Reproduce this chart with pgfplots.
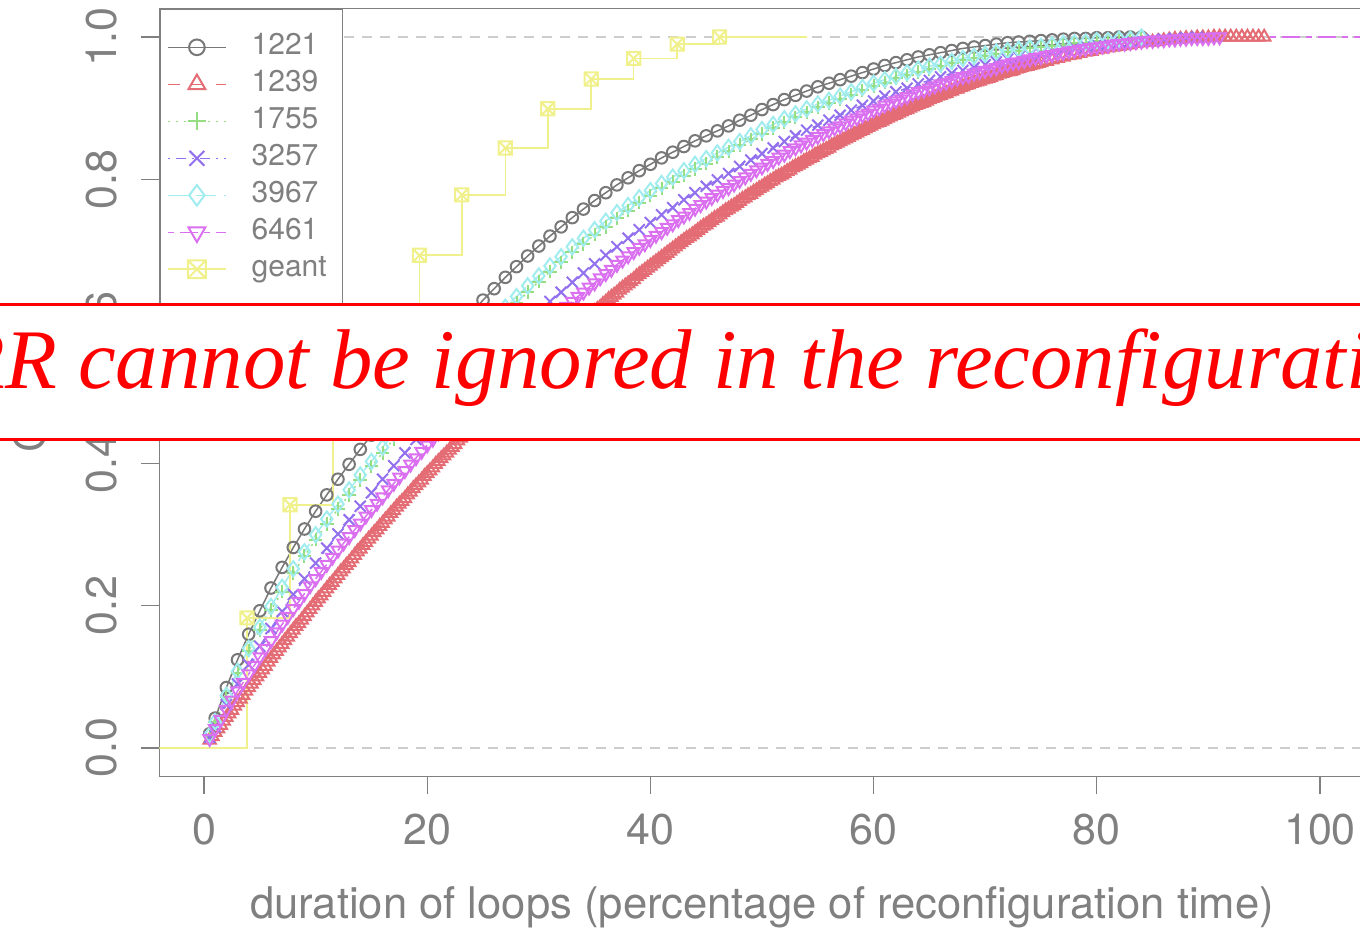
\documentclass[border=0pt]{standalone}
\usepackage{fontspec}
\setmainfont{TeX Gyre Heros}
\newfontfamily\bannerfont{Liberation Serif}
\usepackage{pgfplots}
\pgfplotsset{compat=1.18}

\definecolor{axgray}{RGB}{128,128,128}
\definecolor{refgray}{RGB}{205,205,205}
\definecolor{cA}{RGB}{120,120,120}
\definecolor{cB}{RGB}{228,108,116}
\definecolor{cC}{RGB}{150,222,130}
\definecolor{cD}{RGB}{146,112,238}
\definecolor{cE}{RGB}{160,236,238}
\definecolor{cF}{RGB}{218,112,240}
\definecolor{cG}{RGB}{240,240,140}

\pgfdeclareplotmark{boxx}{%
  \pgfpathrectangle{\pgfqpoint{-\pgfplotmarksize}{-\pgfplotmarksize}}{\pgfqpoint{2\pgfplotmarksize}{2\pgfplotmarksize}}%
  \pgfpathmoveto{\pgfqpoint{-\pgfplotmarksize}{-\pgfplotmarksize}}%
  \pgfpathlineto{\pgfqpoint{\pgfplotmarksize}{\pgfplotmarksize}}%
  \pgfpathmoveto{\pgfqpoint{-\pgfplotmarksize}{\pgfplotmarksize}}%
  \pgfpathlineto{\pgfqpoint{\pgfplotmarksize}{-\pgfplotmarksize}}%
  \pgfusepathqstroke}

\begin{document}
\begin{tikzpicture}
\useasboundingbox (0,0) rectangle (680pt,464pt);
\clip (0,0) rectangle (680pt,464pt);
\begin{axis}[
  at={(79.7pt,75.8pt)}, anchor=south west,
  scale only axis, width=602.6pt, height=383.9pt,
  xmin=-4, xmax=104, ymin=-0.04, ymax=1.04,
  axis line style={axgray, line width=0.7pt},
  xtick={0,20,40,60,80,100}, xticklabels={0,20,40,60,80,100},
  ytick={0,0.2,0.4,0.6,0.8,1}, yticklabels={0.0,0.2,0.4,0.6,0.8,1.0},
  tick pos=left, tick align=outside, major tick length=9pt,
  tick style={axgray, line width=0.7pt},
  /pgf/number format/assume math mode=true,
  tick label style={font=\fontsize{21.5pt}{24pt}\selectfont, text=axgray},
  xticklabel style={anchor=base, yshift=-25pt},
  yticklabel style={rotate=90, anchor=base, yshift=12.5pt},
  xlabel={duration of loops (percentage of reconfiguration time)},
  ylabel={CDF},
  every axis x label/.style={at={(axis description cs:0.5,0)}, anchor=base, yshift=-70.8pt, font=\fontsize{21.8pt}{24pt}\selectfont, text=axgray},
  every axis y label/.style={at={(axis description cs:0,0.48)}, rotate=90, anchor=base, yshift=57.2pt, font=\fontsize{21.8pt}{24pt}\selectfont, text=axgray},
  legend style={at={(axis description cs:0,1)}, anchor=north west, draw=axgray, line width=0.7pt, fill=white,
    inner xsep=3.5pt, inner ysep=11.5pt, row sep=3.5pt, font=\fontsize{15pt}{18pt}\selectfont, text=axgray,
    nodes={inner sep=0pt, text height=11pt, text depth=4pt},
    /tikz/every odd column/.append style={column sep=12.5pt}},
  legend cell align=left,
  legend image code/.code={\draw[mark repeat=2,mark phase=2,#1,every mark/.append style={scale=1.35}] plot coordinates {(0pt,0pt) (14.5pt,0pt) (29pt,0pt)};},
  clip=true,
]
\addplot[forget plot, refgray, line width=0.9pt, dash pattern=on 5pt off 4pt] coordinates {(-10,0) (110,0)};
\addplot[forget plot, refgray, line width=0.9pt, dash pattern=on 5pt off 4pt] coordinates {(-10,1) (110,1)};

% 1221
\addplot[cA, line width=0.75pt, mark=o, mark size=2.9pt, mark options={solid, line width=1pt}] coordinates {
(0.5,0.020)(1,0.042)(2,0.085)(3,0.124)(4,0.160)(5,0.193)(6,0.225)(7,0.254)(8,0.282)(9,0.308)(10,0.333)
(11,0.356)(12,0.378)(13,0.399)(14,0.420)(15,0.440)(16,0.460)(17,0.480)(18,0.500)(19,0.520)(20,0.539)
(21,0.558)(22,0.576)(23,0.594)(24,0.612)(25,0.630)(26,0.646)(27,0.662)(28,0.677)(29,0.692)(30,0.706)
(31,0.720)(32,0.733)(33,0.746)(34,0.758)(35,0.770)(36,0.781)(37,0.792)(38,0.802)(39,0.812)(40,0.821)
(41,0.830)(42,0.838)(43,0.846)(44,0.854)(45,0.861)(46,0.868)(47,0.875)(48,0.883)(49,0.890)(50,0.898)
(51,0.905)(52,0.912)(53,0.918)(54,0.924)(55,0.930)(56,0.935)(57,0.940)(58,0.945)(59,0.950)(60,0.955)
(61,0.960)(62,0.964)(63,0.968)(64,0.972)(65,0.975)(66,0.978)(67,0.981)(68,0.984)(69,0.986)(70,0.988)
(71,0.990)(72,0.992)(73,0.993)(74,0.994)(75,0.995)(76,0.996)(77,0.997)(78,0.998)(79,0.998)(80,0.999)
(81,0.999)(82,1)(83,1)(84,1)};
\addlegendentry{1221}

% 1239
\addplot[cB, line width=0.75pt, dash pattern=on 6pt off 6pt, mark=triangle, mark size=3.6pt, mark options={solid, line width=1pt}] coordinates {
(0.5,.011)(0.75,.016)(1,.022)(1.25,.027)(1.5,.032)(1.75,.038)(2,.043)(2.25,.048)(2.5,.053)(2.75,.059)
(3,.064)(3.25,.069)(3.5,.074)(3.75,.080)(4,.085)(4.25,.090)(4.5,.095)(4.75,.100)(5,.105)(5.25,.110)
(5.5,.115)(5.75,.121)(6,.126)(6.25,.131)(6.5,.136)(6.75,.141)(7,.146)(7.25,.151)(7.5,.156)(7.75,.161)
(8,.166)(8.25,.171)(8.5,.175)(8.75,.180)(9,.185)(9.25,.190)(9.5,.195)(9.75,.200)(10,.205)(10.25,.210)
(10.5,.214)(10.75,.219)(11,.224)(11.25,.229)(11.5,.233)(11.75,.238)(12,.243)(12.25,.248)(12.5,.252)(12.75,.257)
(13,.261)(13.25,.266)(13.5,.271)(13.75,.276)(14,.280)(14.25,.285)(14.5,.289)(14.75,.294)(15,.298)(15.25,.303)
(15.5,.307)(15.75,.312)(16,.316)(16.25,.321)(16.5,.325)(16.75,.330)(17,.334)(17.25,.339)(17.5,.343)(17.75,.347)
(18,.351)(18.25,.356)(18.5,.360)(18.75,.365)(19,.369)(19.25,.373)(19.5,.377)(19.75,.382)(20,.386)(20.25,.390)
(20.5,.394)(20.75,.399)(21,.403)(21.25,.407)(21.5,.411)(21.75,.415)(22,.419)(22.25,.423)(22.5,.427)(22.75,.432)
(23,.436)(23.25,.440)(23.5,.444)(23.75,.448)(24,.452)(24.25,.456)(24.5,.460)(24.75,.464)(25,.468)(25.25,.472)
(25.5,.475)(25.75,.479)(26,.483)(26.25,.487)(26.5,.491)(26.75,.495)(27,.499)(27.25,.503)(27.5,.506)(27.75,.510)
(28,.514)(28.25,.518)(28.5,.521)(28.75,.525)(29,.529)(29.25,.533)(29.5,.536)(29.75,.540)(30,.544)(30.25,.548)
(30.5,.551)(30.75,.555)(31,.558)(31.25,.562)(31.5,.565)(31.75,.569)(32,.572)(32.25,.576)(32.5,.579)(32.75,.583)
(33,.586)(33.25,.590)(33.5,.593)(33.75,.597)(34,.600)(34.25,.604)(34.5,.607)(34.75,.611)(35,.614)(35.25,.617)
(35.5,.620)(35.75,.624)(36,.627)(36.25,.631)(36.5,.634)(36.75,.637)(37,.640)(37.25,.644)(37.5,.647)(37.75,.650)
(38,.653)(38.25,.656)(38.5,.659)(38.75,.663)(39,.666)(39.25,.669)(39.5,.672)(39.75,.675)(40,.678)(40.25,.681)
(40.5,.684)(40.75,.687)(41,.690)(41.25,.693)(41.5,.696)(41.75,.699)(42,.702)(42.25,.705)(42.5,.708)(42.75,.711)
(43,.714)(43.25,.717)(43.5,.719)(43.75,.722)(44,.725)(44.25,.728)(44.5,.731)(44.75,.734)(45,.736)(45.25,.739)
(45.5,.742)(45.75,.745)(46,.747)(46.25,.750)(46.5,.753)(46.75,.756)(47,.758)(47.25,.761)(47.5,.763)(47.75,.766)
(48,.769)(48.25,.772)(48.5,.774)(48.75,.777)(49,.779)(49.25,.782)(49.5,.784)(49.75,.787)(50,.789)(50.25,.792)
(50.5,.794)(50.75,.797)(51,.799)(51.25,.802)(51.5,.804)(51.75,.806)(52,.808)(52.25,.811)(52.5,.813)(52.75,.816)
(53,.818)(53.25,.820)(53.5,.822)(53.75,.825)(54,.827)(54.25,.829)(54.5,.831)(54.75,.834)(55,.836)(55.25,.838)
(55.5,.840)(55.75,.842)(56,.844)(56.25,.847)(56.5,.849)(56.75,.851)(57,.853)(57.25,.855)(57.5,.857)(57.75,.859)
(58,.861)(58.25,.863)(58.5,.865)(58.75,.867)(59,.869)(59.25,.871)(59.5,.873)(59.75,.875)(60,.877)(60.25,.879)
(60.5,.880)(60.75,.882)(61,.884)(61.25,.886)(61.5,.888)(61.75,.890)(62,.891)(62.25,.893)(62.5,.895)(62.75,.897)
(63,.898)(63.25,.900)(63.5,.902)(63.75,.904)(64,.905)(64.25,.907)(64.5,.908)(64.75,.910)(65,.912)(65.25,.914)
(65.5,.915)(65.75,.917)(66,.918)(66.25,.920)(66.5,.921)(66.75,.923)(67,.924)(67.25,.926)(67.5,.927)(67.75,.929)
(68,.930)(68.25,.932)(68.5,.933)(68.75,.935)(69,.936)(69.25,.937)(69.5,.938)(69.75,.940)(70,.941)(70.25,.942)
(70.5,.943)(70.75,.945)(71,.946)(71.25,.948)(71.5,.949)(71.75,.950)(72,.951)(72.25,.952)(72.5,.953)(72.75,.955)
(73,.956)(73.25,.957)(73.5,.958)(73.75,.959)(74,.960)(74.25,.961)(74.5,.962)(74.75,.963)(75,.964)
(75.5,.966)(76,.968)(76.5,.970)(77,.972)(77.5,.974)(78,.975)(78.5,.977)(79,.979)(79.5,.980)(80,.982)
(80.5,.983)(81,.985)(81.5,.986)(82,.987)(82.5,.988)(83,.989)(83.5,.991)(84,.992)(84.5,.993)(85,.993)
(85.5,.994)(86,.995)(86.5,.996)(87,.997)(87.5,.997)(88,.998)(88.5,.998)(89,.999)(89.5,.999)(90,.999)
(90.5,1)(91,1)(91.5,1)(92,1)(92.5,1)(93,1)(93.5,1)(94,1)(94.5,1)(95,1)};
\addlegendentry{1239}

% 1755
\addplot[cC, line width=0.75pt, dash pattern=on 1pt off 3pt, mark=+, mark size=3.4pt, mark options={solid, line width=1pt}] coordinates {
(0.5,.017)(1,.036)(2,.072)(3,.105)(4,.137)(5,.166)(6,.194)(7,.220)(8,.246)(9,.270)(10,.293)
(11,.315)(12,.336)(13,.356)(14,.377)(15,.396)(16,.415)(17,.435)(18,.454)(19,.473)(20,.492)
(21,.510)(22,.527)(23,.545)(24,.562)(25,.580)(26,.596)(27,.611)(28,.626)(29,.641)(30,.656)
(31,.670)(32,.683)(33,.697)(34,.709)(35,.722)(36,.733)(37,.745)(38,.756)(39,.767)(40,.777)
(41,.787)(42,.796)(43,.805)(44,.814)(45,.822)(46,.831)(47,.839)(48,.848)(49,.856)(50,.864)
(51,.872)(52,.880)(53,.887)(54,.894)(55,.901)(56,.907)(57,.913)(58,.919)(59,.925)(60,.931)
(61,.936)(62,.942)(63,.946)(64,.951)(65,.955)(66,.959)(67,.963)(68,.967)(69,.970)(70,.973)
(71,.976)(72,.979)(73,.981)(74,.984)(75,.986)(76,.987)(77,.989)(78,.991)(79,.992)(80,.994)
(81,.995)(82,.996)(83,.997)(84,1)};
\addlegendentry{1755}

% 3257
\addplot[cD, line width=0.75pt, dash pattern=on 1pt off 3pt on 5pt off 3pt, mark=x, mark size=3.9pt, mark options={solid, line width=1pt}] coordinates {
(0.5,.015)(1,.030)(2,.061)(3,.090)(4,.117)(5,.143)(6,.168)(7,.192)(8,.216)(9,.238)(10,.260)
(11,.281)(12,.301)(13,.321)(14,.340)(15,.359)(16,.378)(17,.397)(18,.415)(19,.434)(20,.452)
(21,.469)(22,.487)(23,.504)(24,.521)(25,.537)(26,.553)(27,.569)(28,.584)(29,.599)(30,.613)
(31,.628)(32,.641)(33,.655)(34,.668)(35,.681)(36,.693)(37,.705)(38,.717)(39,.729)(40,.739)
(41,.750)(42,.760)(43,.771)(44,.781)(45,.790)(46,.799)(47,.808)(48,.818)(49,.827)(50,.836)
(51,.844)(52,.853)(53,.861)(54,.869)(55,.876)(56,.883)(57,.890)(58,.897)(59,.904)(60,.910)
(61,.917)(62,.923)(63,.928)(64,.934)(65,.939)(66,.944)(67,.949)(68,.953)(69,.957)(70,.961)
(71,.965)(72,.969)(73,.972)(74,.975)(75,.977)(76,.980)(77,.983)(78,.985)(79,.987)(80,.989)
(81,.991)(82,.993)(83,.994)(84,.995)(85,.996)(86,.997)(87,.998)(88,.999)(89,1)};
\addlegendentry{3257}

% 3967
\addplot[cE, line width=0.75pt, dash pattern=on 10pt off 4pt, mark=diamond, mark size=3.8pt, mark options={solid, line width=1pt}] coordinates {
(0.5,.018)(1,.037)(2,.074)(3,.108)(4,.140)(5,.170)(6,.199)(7,.226)(8,.252)(9,.276)(10,.300)
(11,.322)(12,.343)(13,.363)(14,.384)(15,.403)(16,.423)(17,.442)(18,.461)(19,.481)(20,.499)
(21,.518)(22,.535)(23,.553)(24,.570)(25,.588)(26,.604)(27,.620)(28,.635)(29,.650)(30,.664)
(31,.678)(32,.691)(33,.705)(34,.717)(35,.729)(36,.741)(37,.753)(38,.763)(39,.774)(40,.784)
(41,.794)(42,.803)(43,.812)(44,.821)(45,.829)(46,.837)(47,.845)(48,.853)(49,.861)(50,.870)
(51,.877)(52,.885)(53,.892)(54,.899)(55,.906)(56,.911)(57,.917)(58,.923)(59,.929)(60,.935)
(61,.940)(62,.945)(63,.950)(64,.955)(65,.959)(66,.962)(67,.966)(68,.970)(69,.973)(70,.976)
(71,.979)(72,.981)(73,.983)(74,.985)(75,.987)(76,.989)(77,.991)(78,.992)(79,.993)(80,.995)
(81,.995)(82,.997)(83,.997)(84,1)};
\addlegendentry{3967}

% 6461
\addplot[cF, line width=0.75pt, dash pattern=on 3pt off 3pt on 9pt off 3pt, mark=triangle, mark size=3.6pt, mark options={solid, rotate=180, line width=1pt}] coordinates {
(0.5,.013)(1,.027)(1.5,.040)(2,.054)(2.5,.067)(3,.080)(3.5,.092)(4,.104)(4.5,.116)(5,.128)
(5.5,.140)(6,.151)(6.5,.163)(7,.174)(7.5,.185)(8,.196)(8.5,.206)(9,.217)(9.5,.228)(10,.238)
(10.5,.248)(11,.258)(11.5,.268)(12,.278)(12.5,.288)(13,.297)(13.5,.307)(14,.316)(14.5,.326)(15,.335)
(15.5,.344)(16,.353)(16.5,.363)(17,.372)(17.5,.381)(18,.390)(18.5,.399)(19,.408)(19.5,.417)(20,.426)
(20.5,.434)(21,.443)(21.5,.451)(22,.460)(22.5,.468)(23,.477)(23.5,.485)(24,.493)(24.5,.502)(25,.510)
(25.5,.518)(26,.526)(26.5,.533)(27,.541)(27.5,.549)(28,.556)(28.5,.564)(29,.571)(29.5,.579)(30,.586)
(30.5,.593)(31,.600)(31.5,.607)(32,.614)(32.5,.621)(33,.628)(33.5,.635)(34,.641)(34.5,.648)(35,.654)
(35.5,.661)(36,.667)(36.5,.673)(37,.680)(37.5,.686)(38,.692)(38.5,.698)(39,.704)(39.5,.709)(40,.715)
(40.5,.721)(41,.726)(41.5,.732)(42,.737)(42.5,.743)(43,.748)(43.5,.753)(44,.759)(44.5,.764)(45,.769)
(45.5,.774)(46,.779)(46.5,.784)(47,.788)(47.5,.793)(48,.798)(48.5,.803)(49,.808)(49.5,.813)(50,.817)
(50.5,.822)(51,.826)(51.5,.831)(52,.835)(52.5,.840)(53,.844)(53.5,.848)(54,.852)(54.5,.856)(55,.860)
(55.5,.864)(56,.868)(56.5,.872)(57,.875)(57.5,.879)(58,.883)(58.5,.886)(59,.890)(59.5,.893)(60,.897)
(60.5,.900)(61,.904)(61.5,.907)(62,.910)(62.5,.913)(63,.916)(63.5,.920)(64,.923)(64.5,.925)(65,.928)
(65.5,.931)(66,.934)(66.5,.936)(67,.939)(67.5,.942)(68,.944)(68.5,.946)(69,.949)(69.5,.951)(70,.953)
(70.5,.955)(71,.957)(71.5,.960)(72,.962)(72.5,.964)(73,.965)(73.5,.967)(74,.969)(74.5,.971)(75,.972)
(75.5,.974)(76,.975)(76.5,.977)(77,.978)(77.5,.980)(78,.981)(78.5,.983)(79,.984)(79.5,.985)(80,.986)
(80.5,.987)(81,.988)(81.5,.990)(82,.991)(82.5,.991)(83,.992)(83.5,.993)(84,.994)(84.5,.995)(85,.995)
(85.5,.996)(86,.996)(86.5,.997)(87,.997)(87.5,.998)(88,.998)(88.5,.999)(89,.999)(89.5,.999)(90,.999)
(90.5,1)(91,1)};
\addlegendentry{6461}

% geant
\addplot[cG, line width=0.8pt, const plot, mark=boxx, mark size=3.3pt, mark options={solid, line width=1pt}] coordinates {
(-10,0)(3.85,0.183)(7.7,0.342)(11.55,0.475)(15.4,0.595)(19.3,0.693)(23.1,0.778)(27.0,0.844)
(30.8,0.899)(34.7,0.941)(38.5,0.970)(42.4,0.990)(46.2,1.0)};
\addlegendentry{geant\rule{4.5pt}{0pt}}
\addplot[forget plot, cG, line width=0.8pt] coordinates {(46.2,1.0)(54,1.0)};
\addplot[forget plot, cF, line width=0.75pt, dash pattern=on 3pt off 3pt on 9pt off 3pt] coordinates {(95.5,1.0)(110,1.0)};
\end{axis}

\fill[white] (-10pt,244.25pt) rectangle (690pt,311.75pt);
\draw[red, line width=1.3pt] (-10pt,311.75pt) -- (690pt,311.75pt);
\draw[red, line width=1.3pt] (-10pt,244.25pt) -- (690pt,244.25pt);
\node[anchor=base west, inner sep=0pt, text=red, font=\bannerfont\itshape\fontsize{42.4pt}{46pt}\selectfont] at (-23.5pt,269.5pt) {RR cannot be ignored in the reconfiguration time};
\end{tikzpicture}
\end{document}
